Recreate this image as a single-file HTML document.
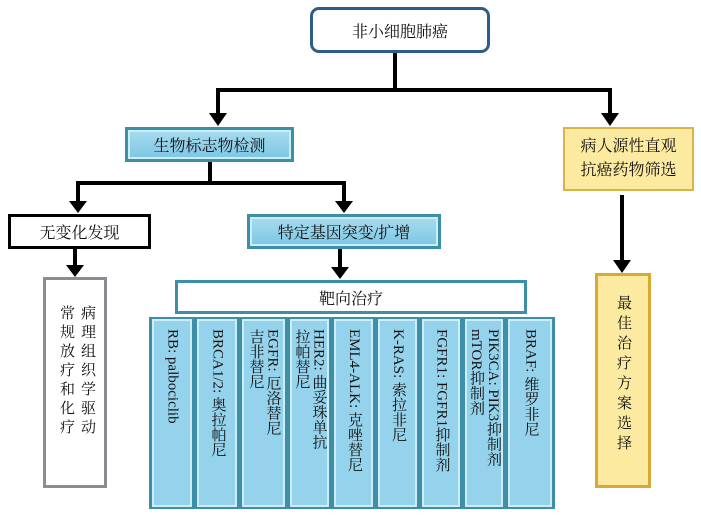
<!DOCTYPE html>
<html><head><meta charset="utf-8"><style>
body{margin:0;width:701px;height:515px;background:#fff;position:relative;overflow:hidden;font-family:"Liberation Serif","Noto Serif CJK SC","Noto Sans CJK SC",serif;color:#111}
.b{position:absolute;box-sizing:border-box;display:flex;align-items:center;justify-content:center;font-size:16px}
.blue{background:linear-gradient(#a8dcef,#7cc6e3);border:3px solid #3d8fa8;box-shadow:inset 0 0 0 2px #c9eef9}
.col{position:absolute;top:317px;height:192px;box-sizing:border-box;background:#95d3ec;border:2px solid #3d8fa8;box-shadow:inset 0 0 0 2px #cdeef8;writing-mode:vertical-rl;font-size:15px;padding-top:10px;text-align:left;line-height:17px;display:flex;align-items:center;justify-content:flex-start}
.v{position:absolute;writing-mode:vertical-rl;text-orientation:upright;font-size:15px;line-height:22px;letter-spacing:4px}
</style></head><body>
<svg width="701" height="515" style="position:absolute;left:0;top:0">
<g stroke="#000" stroke-width="4" fill="none">
<path d="M395 53V90M218 90H610M218 88V115M610 88V115"/>
<path d="M210 162V183M78 183H344M78 181V203M344 181V203"/>
<path d="M75 249V268M340 249V270M622 195V262"/>
</g>
<g fill="#000">
<path d="M209 113h18l-9 13z"/><path d="M601 113h18l-9 13z"/>
<path d="M69 201h18l-9 12z"/><path d="M335 201h18l-9 12z"/>
<path d="M66 265h18l-9 12z"/><path d="M331 267h18l-9 12z"/><path d="M613 260h18l-9 13z"/>
</g>
</svg>
<div class="b" style="left:310px;top:7px;width:180px;height:46px;border:3px solid #2f5d86;border-radius:9px;background:#fff">非小细胞肺癌</div>
<div class="b blue" style="left:125px;top:127px;width:169px;height:35px">生物标志物检测</div>
<div class="b" style="left:563px;top:127px;width:131px;height:64px;background:#fbeaa0;border:2px solid #d8b54a;line-height:24px;text-align:center">病人源性直观<br>抗癌药物筛选</div>
<div class="b" style="left:8px;top:214px;width:143px;height:35px;border:3px solid #000;background:#fff">无变化发现</div>
<div class="b blue" style="left:247px;top:214px;width:194px;height:35px">特定基因突变/扩增</div>
<div class="b" style="left:175px;top:280px;width:352px;height:34px;border:3px solid #3d8fa8;background:#fff">靶向治疗</div>
<div style="position:absolute;left:149px;top:317px;width:406px;height:192px;background:#3d8fa8"></div>
<div class="col" style="left:150px;width:44px">RB: palbociclib</div>
<div class="col" style="left:195px;width:44px">BRCA1/2: 奥拉帕尼</div>
<div class="col" style="left:240px;width:47px">EGFR: 厄洛替尼<br>吉非替尼</div>
<div class="col" style="left:288px;width:43px">HER2: 曲妥珠单抗<br>拉帕替尼</div>
<div class="col" style="left:332px;width:43px">EML4-ALK: 克唑替尼</div>
<div class="col" style="left:376px;width:43px">K-RAS: 索拉非尼</div>
<div class="col" style="left:420px;width:42px">FGFR1: FGFR1抑制剂</div>
<div class="col" style="left:463px;width:42px">PIK3CA: PIK3抑制剂<br>mTOR抑制剂</div>
<div class="col" style="left:506px;width:48px">BRAF: 维罗非尼</div>
<div style="position:absolute;left:43px;top:277px;width:64px;height:211px;box-sizing:border-box;border:3px solid #8a8e92;background:#fff"></div>
<div class="v" style="left:55px;top:305px">常规放疗和化疗</div>
<div class="v" style="left:76px;top:305px">病理组织学驱动</div>
<div style="position:absolute;left:595px;top:273px;width:56px;height:215px;box-sizing:border-box;border:3px solid #d9a935;background:#fbeaa0"></div>
<div class="v" style="left:612px;top:295px;letter-spacing:5px">最佳治疗方案选择</div>
</body></html>
